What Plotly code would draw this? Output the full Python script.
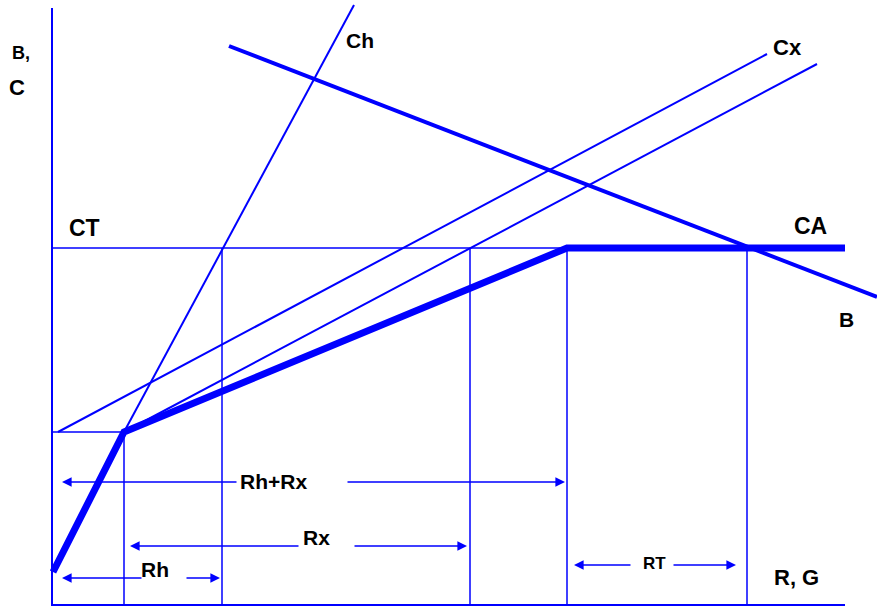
import plotly.graph_objects as go

BLUE = "#0000FF"
FONT = "Liberation Sans, Arial, sans-serif"

# Diagram geometry (diagram units, y grows downward)
axis_x = [52, 52, 845]
axis_y = [8, 605, 605]

kink_x = [53, 124, 567, 845]          # thick composite cost curve
kink_y = [572, 432, 248, 248]

b_x = [229, 877]                       # B line
b_y = [46, 297]

ch_x = [124, 354]                      # Ch line
ch_y = [432, 5]

cx1_x = [58, 767]                      # upper Cx line
cx1_y = [432, 54]
cx2_x = [124, 817]                     # lower Cx line
cx2_y = [432, 64]

ct_x = [52, 567]                       # CT horizontal
ct_y = [248, 248]
low_h_x = [52, 124]
low_h_y = [432, 432]

vert_x = [124, 222, 470, 567, 747]
vert_top = [432, 248, 248, 248, 248]
vert_bottom = 605

labels = [
    ("B,", 21, 53, 18), ("C", 17, 87, 22), ("Ch", 360, 40, 21), ("Cx", 787, 47, 22),
    ("CT", 84, 228, 23), ("CA", 810, 226, 23), ("B", 846, 319, 21), ("R, G", 796, 577, 22),
    ("Rh+Rx", 273, 481, 21), ("Rx", 316, 537, 21), ("Rh", 155, 569, 21), ("RT", 654, 563, 17),
]

# dimension arrows: (tail_x, head_x, y)
arrows = [
    (238, 62, 482), (346, 565, 482),
    (300, 130, 546), (353, 467, 546),
    (143, 62, 578), (185, 220, 578),
    (632, 574, 565), (672, 736, 565),
]

fig = go.Figure()

def line(x, y, w):
    fig.add_trace(go.Scatter(x=x, y=y, mode="lines", line=dict(color=BLUE, width=w),
                             hoverinfo="skip", showlegend=False))

line(axis_x, axis_y, 2)
line(ct_x, ct_y, 1.5)
line(low_h_x, low_h_y, 1.5)
for vx, vt in zip(vert_x, vert_top):
    line([vx, vx], [vt, vert_bottom], 1.5)
line(ch_x, ch_y, 2)
line(cx1_x, cx1_y, 2)
line(cx2_x, cx2_y, 2)
line(b_x, b_y, 4)
line(kink_x, kink_y, 7)

for txt, x, y, s in labels:
    fig.add_annotation(x=x, y=y, text=f"<b>{txt}</b>", showarrow=False,
                       font=dict(family=FONT, size=s, color="black"),
                       xanchor="center", yanchor="middle")

for tx, hx, y in arrows:
    fig.add_annotation(x=hx, y=y, ax=tx, ay=y, axref="x", ayref="y", xref="x", yref="y",
                       text="", showarrow=True, arrowhead=2, arrowsize=1.2,
                       arrowwidth=1.6, arrowcolor=BLUE, standoff=0)

fig.update_layout(
    width=877, height=607, margin=dict(l=0, r=0, t=0, b=0),
    plot_bgcolor="white", paper_bgcolor="white",
    xaxis=dict(range=[0, 877], visible=False, fixedrange=True),
    yaxis=dict(range=[607, 0], visible=False, fixedrange=True),
)
fig.write_html("out.html", config={"displayModeBar": False},
               post_script="document.body.style.margin='0';")
